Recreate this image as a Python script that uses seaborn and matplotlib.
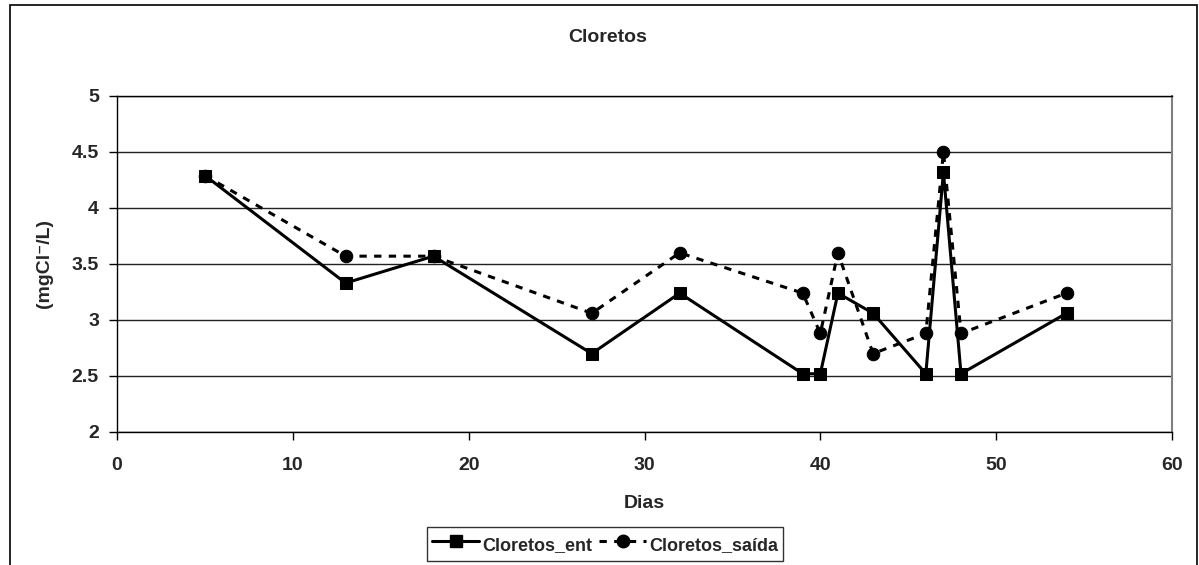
import pandas as pd
import matplotlib.pyplot as plt
import seaborn as sns
from matplotlib.patches import Rectangle

# DATA

dias = [5, 13, 18, 27, 32, 39, 40, 41, 43, 46, 47, 48, 54]

cloretos_ent = [4.29, 3.33, 3.57, 2.70, 3.24, 2.52, 2.52, 3.24, 3.06, 2.52, 4.32, 2.52, 3.06]

cloretos_saida = [4.29, 3.57, 3.57, 3.06, 3.60, 3.24, 2.88, 3.60, 2.70, 2.88, 4.50, 2.88, 3.24]

x_ticks = [0, 10, 20, 30, 40, 50, 60]
y_ticks = [2, 2.5, 3, 3.5, 4, 4.5, 5]

df = pd.DataFrame({
    "Dias": dias + dias,
    "valor": cloretos_ent + cloretos_saida,
    "serie": ["Cloretos_ent"] * len(dias) + ["Cloretos_saída"] * len(dias)
})

sns.set_style("white")
plt.rcParams["font.family"] = ["Liberation Sans", "DejaVu Sans"]
plt.rcParams["font.weight"] = "bold"

FS = 14

fig = plt.figure(figsize=(11.99, 5.65), dpi=100)
ax = fig.add_axes([117 / 1199, 1 - 432 / 565, 1055 / 1199, 336 / 565])

dash = (0, (2.4, 2.4))

sns.lineplot(
    data=df,
    x="Dias",
    y="valor",
    hue="serie",
    style="serie",
    palette=["black", "black"],
    dashes=[(), dash[1]],
    markers=["s", "o"],
    markersize=9,
    markeredgecolor="black",
    linewidth=2.2,
    ax=ax,
    legend=False
)

ax.set_xlim(0, 60)
ax.set_ylim(2, 5)
ax.set_xticks(x_ticks)
ax.set_yticks(y_ticks)
ax.set_yticklabels([f"{v:g}" for v in y_ticks])

ax.tick_params(axis="both", direction="out", length=6, width=1,
               color="black", labelsize=FS, left=True, bottom=True)
ax.tick_params(axis="x", pad=12)
ax.tick_params(axis="y", pad=7)
for lab in ax.get_xticklabels() + ax.get_yticklabels():
    lab.set_fontweight("bold")

ax.yaxis.grid(True, color="#222222", linewidth=1)
ax.xaxis.grid(False)
ax.set_axisbelow(True)

for side in ["left", "bottom", "top"]:
    ax.spines[side].set_color("black")
    ax.spines[side].set_linewidth(1)
ax.spines["right"].set_color("#808080")
ax.spines["right"].set_linewidth(1.5)

ax.set_xlabel("Dias", fontsize=FS, fontweight="bold")
ax.xaxis.set_label_coords(0.5, -(503 - 432) / 336, transform=ax.transAxes)
ax.xaxis.label.set_va("center")
ax.set_ylabel("(mgCl⁻/L)", fontsize=FS, fontweight="bold")
ax.yaxis.set_label_coords(-(117 - 45) / 1055, 0.5)
ax.yaxis.label.set_va("center")

fig.text(608 / 1199, 1 - 37 / 565, "Cloretos", ha="center", va="center",
         fontsize=FS, fontweight="bold")

# LEGEND

handles = [
    plt.Line2D([], [], color="black", linewidth=2.2, marker="s", markersize=9),
    plt.Line2D([], [], color="black", linewidth=2.2, linestyle=dash,
               marker="o", markersize=9),
]

leg = fig.legend(
    handles,
    ["Cloretos_ent", "Cloretos_saída"],
    loc="upper center",
    bbox_to_anchor=(605 / 1199, 1 - 527 / 565),
    ncol=2,
    frameon=True,
    fancybox=False,
    edgecolor="black",
    fontsize=13,
    handlelength=2.6,
    handleheight=1.6,
    handletextpad=0.15,
    columnspacing=0.4,
    borderpad=0.3,
    borderaxespad=0
)
leg.get_frame().set_linewidth(1)
for t in leg.get_texts():
    t.set_fontweight("bold")

# CHART BORDER

fig.patches.append(Rectangle(
    (10 / 1199, -0.05), 1187 / 1199, 1.05 - 5 / 565,
    transform=fig.transFigure, fill=False, edgecolor="black",
    linewidth=1.2, clip_on=False
))

plt.savefig("out.png", dpi=100)
